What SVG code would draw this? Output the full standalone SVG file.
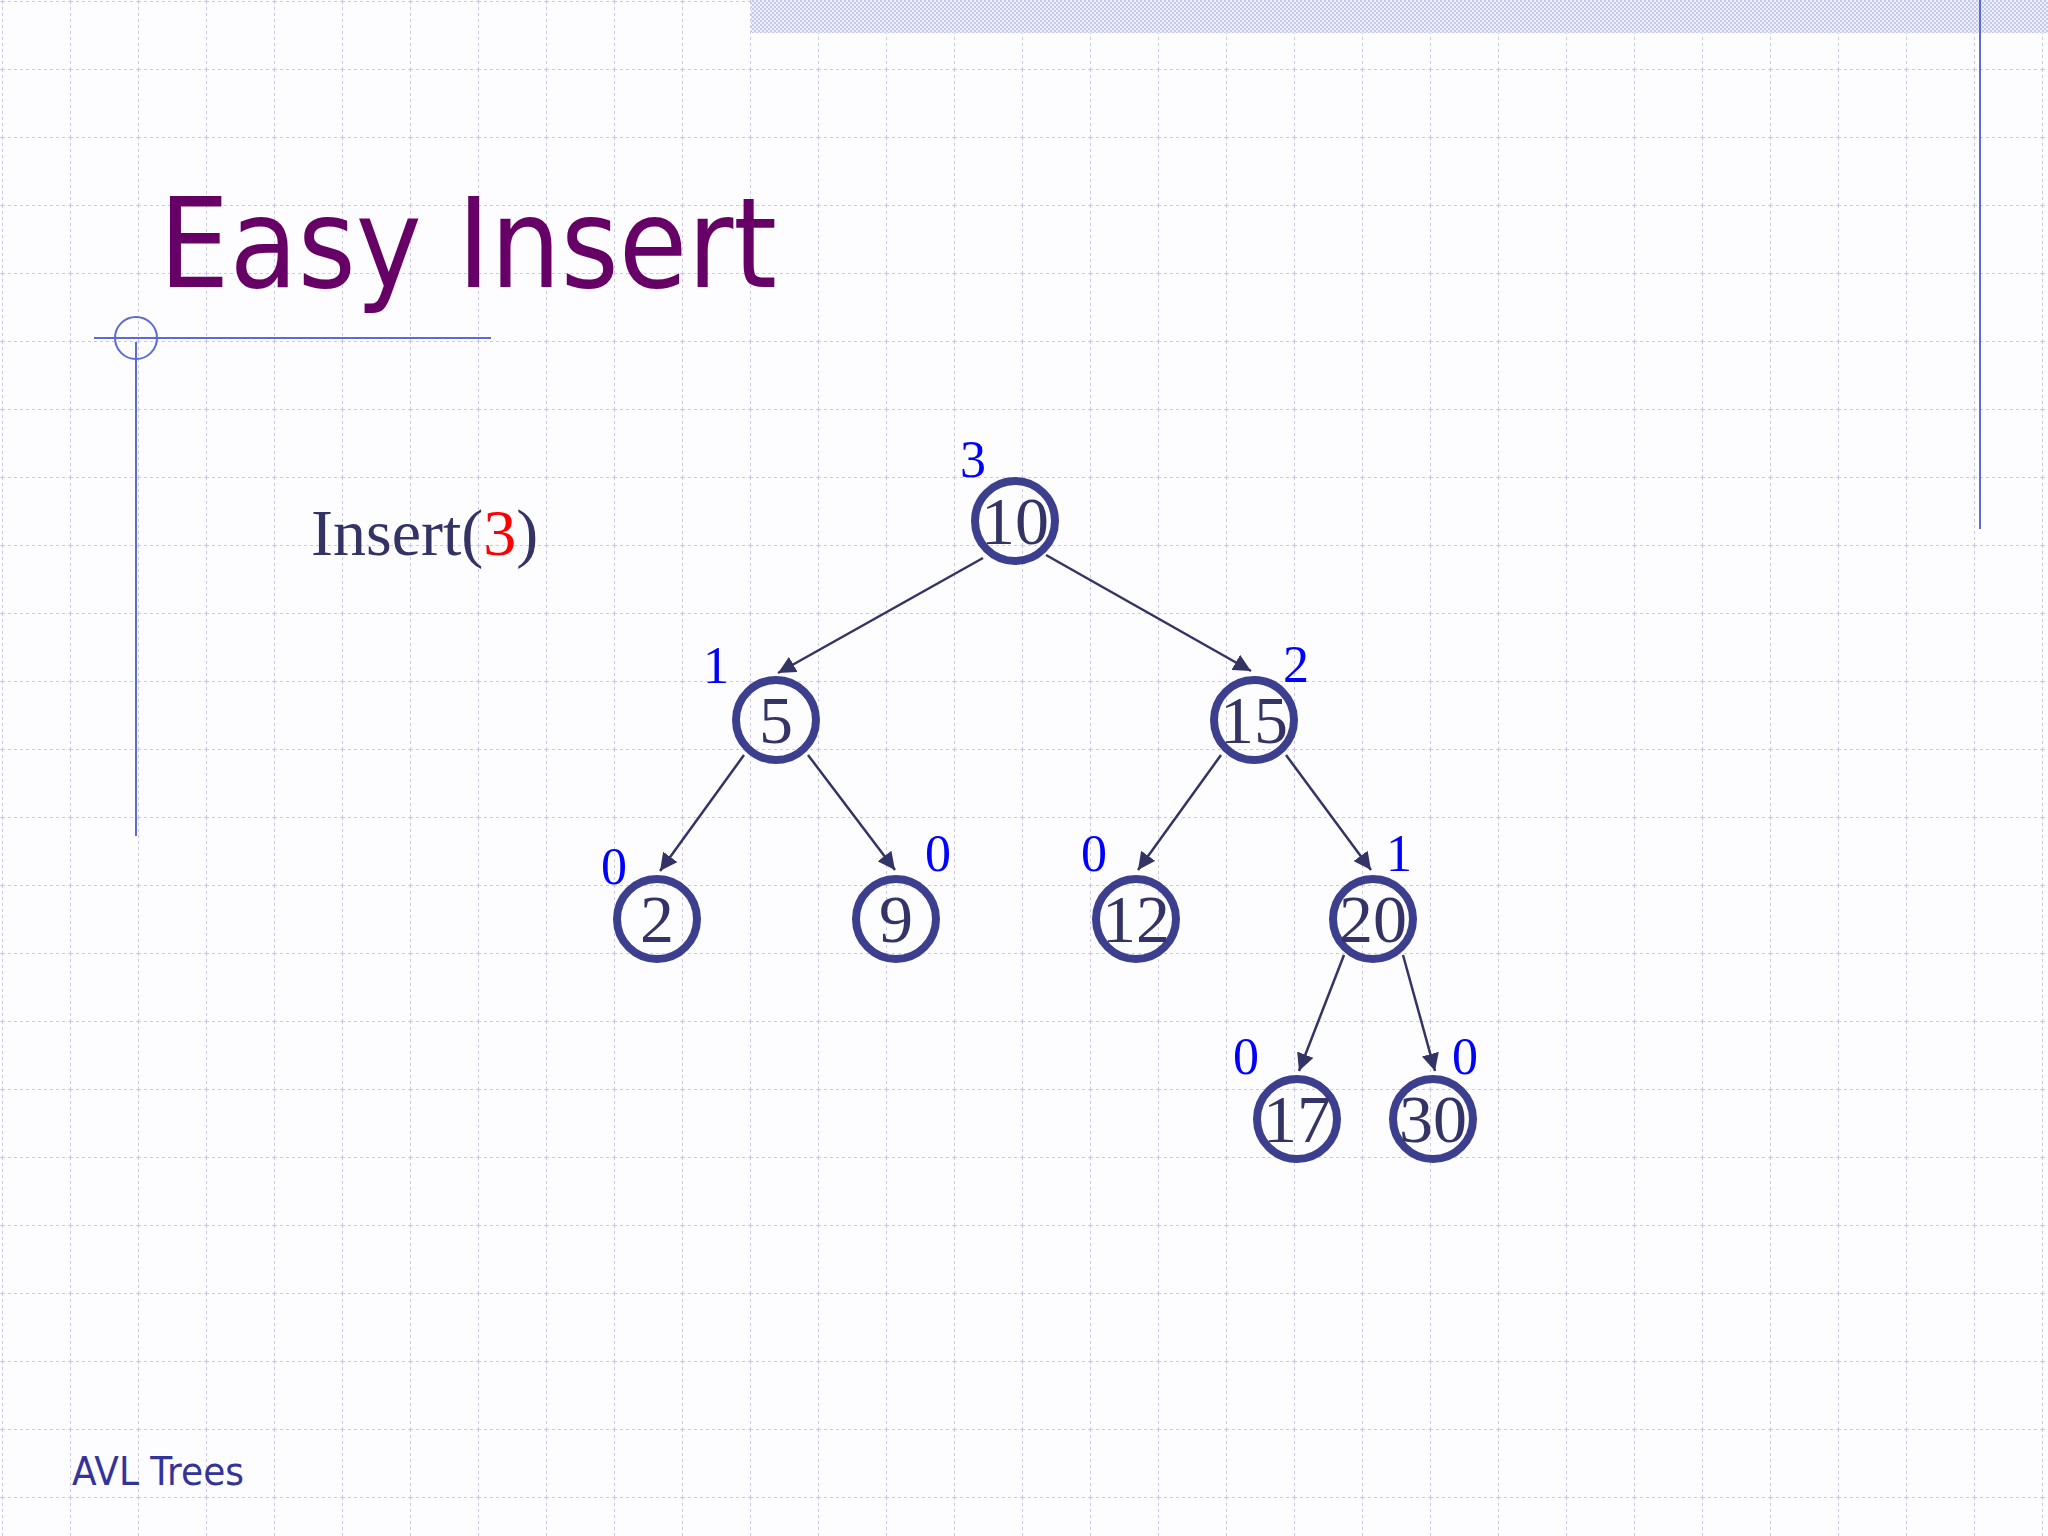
<svg xmlns="http://www.w3.org/2000/svg" width="2048" height="1536" viewBox="0 0 2048 1536">
<style>
.n circle{fill:none;stroke:#3c3f8e;stroke-width:8}
.n text{font-family:"Liberation Serif",serif;font-size:68px;fill:#333366;text-anchor:middle}
.n text.b{font-size:52px;fill:#0000ff}
.e line{stroke:#333366;stroke-width:2.5;marker-end:url(#ah)}
.g{stroke:#c8c8f2;stroke-width:2;stroke-dasharray:3 3}
</style>
<defs>
<marker id="ah" viewBox="0 0 10 10" refX="10" refY="5" markerWidth="7" markerHeight="7" orient="auto" markerUnits="strokeWidth"><path d="M0,0L10,5L0,10z" fill="#333366"/></marker>
<pattern id="grid" x="2" y="1" width="68" height="68" patternUnits="userSpaceOnUse">
<line class="g" x1="0" y1="0" x2="0" y2="68"/><line class="g" x1="0" y1="0" x2="68" y2="0"/>
</pattern>
<pattern id="chk" width="4" height="4" patternUnits="userSpaceOnUse"><rect width="4" height="4" fill="#eef0fc"/><rect width="2" height="2" fill="#c4caf0"/><rect x="2" y="2" width="2" height="2" fill="#c4caf0"/></pattern>
</defs>
<rect width="2048" height="1536" fill="#fdfdff"/>
<rect width="2048" height="1536" fill="url(#grid)"/>
<rect x="751" y="0" width="1297" height="33" fill="url(#chk)"/>
<line x1="1980" y1="0" x2="1980" y2="529" stroke="#5a6ad8" stroke-width="2"/>
<text x="159" y="287" font-family="DejaVu Sans,sans-serif" font-size="124" fill="#660066" textLength="618" lengthAdjust="spacingAndGlyphs">Easy Insert</text>
<g stroke="#5a6ad8" stroke-width="2" fill="none">
<line x1="94" y1="338" x2="491" y2="338"/><line x1="136" y1="342" x2="136" y2="836"/><circle cx="136" cy="338" r="21"/>
</g>
<text x="311" y="555" font-family="Liberation Serif,serif" font-size="66" fill="#333366">Insert(<tspan fill="#ff0000">3</tspan>)</text>
<text x="72" y="1485" font-family="DejaVu Sans,sans-serif" font-size="39" fill="#333399" textLength="172" lengthAdjust="spacingAndGlyphs">AVL Trees</text>
<g id="edges" class="e">
<line x1="983" y1="558" x2="778" y2="673"/>
<line x1="1046" y1="555" x2="1251" y2="671"/>
<line x1="744" y1="755" x2="660" y2="871"/>
<line x1="808" y1="755" x2="895" y2="870"/>
<line x1="1221" y1="755" x2="1138" y2="870"/>
<line x1="1286" y1="755" x2="1371" y2="870"/>
<line x1="1344" y1="955" x2="1299" y2="1071"/>
<line x1="1403" y1="955" x2="1435" y2="1071"/>
</g>
<g id="n10" class="n"><circle cx="1015" cy="521" r="40"/><text x="1015" y="544">10</text><text class="b" x="973" y="477">3</text></g>
<g id="n5" class="n"><circle cx="776" cy="720" r="40"/><text x="776" y="743">5</text><text class="b" x="716" y="683">1</text></g>
<g id="n15" class="n"><circle cx="1254" cy="720" r="40"/><text x="1254" y="743">15</text><text class="b" x="1296" y="682">2</text></g>
<g id="n2" class="n"><circle cx="657" cy="919" r="40"/><text x="657" y="942">2</text><text class="b" x="614" y="884">0</text></g>
<g id="n9" class="n"><circle cx="896" cy="919" r="40"/><text x="896" y="942">9</text><text class="b" x="938" y="871">0</text></g>
<g id="n12" class="n"><circle cx="1136" cy="919" r="40"/><text x="1136" y="942">12</text><text class="b" x="1094" y="871">0</text></g>
<g id="n20" class="n"><circle cx="1373" cy="919" r="40"/><text x="1373" y="942">20</text><text class="b" x="1399" y="871">1</text></g>
<g id="n17" class="n"><circle cx="1297" cy="1119" r="40"/><text x="1297" y="1142">17</text><text class="b" x="1246" y="1074">0</text></g>
<g id="n30" class="n"><circle cx="1433" cy="1119" r="40"/><text x="1433" y="1142">30</text><text class="b" x="1465" y="1074">0</text></g>
</svg>
